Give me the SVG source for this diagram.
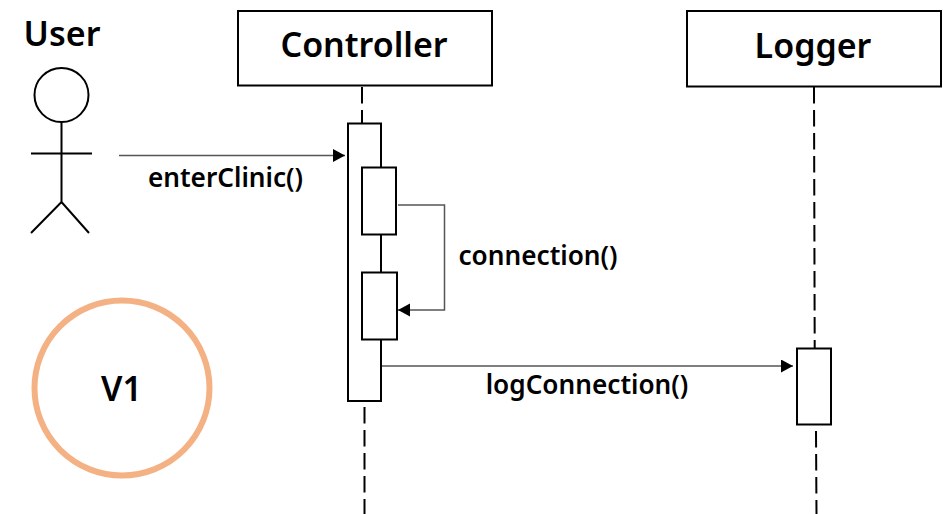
<svg xmlns="http://www.w3.org/2000/svg" width="943" height="514" viewBox="0 0 943 514">
<style>
.s{fill:#fff;stroke:#000;stroke-width:2}
.n{fill:none;stroke:#000;stroke-width:2}
.d{fill:none;stroke:#000;stroke-width:2;stroke-dasharray:16.500 6.500}
.c{fill:none;stroke:#555;stroke-width:1.500}
text{font-family:"Noto Sans","Open Sans",sans-serif;fill:#000;text-anchor:middle}
.t{font-size:34px;font-weight:600}
.l{font-size:26.200px;font-weight:600}
</style>
<defs><marker id="a" markerUnits="userSpaceOnUse" markerWidth="14" markerHeight="14" refX="12" refY="6.500" orient="auto"><path d="M0 0L12 6.500L0 13Z" fill="#000"/></marker></defs>
<rect width="943" height="514" fill="#fff"/>
<g id="lifelines">
<path class="d" d="M362 87V123"/>
<path class="d" d="M364.500 407V514"/>
<path class="d" d="M814 87L814.700 348"/>
<path class="d" d="M816 431L816.500 514"/>
</g>
<g id="user">
<circle class="n" cx="61.500" cy="95" r="27"/>
<path class="n" d="M61.500 122V202M31 153.500H92M31 233L61.500 202L89 233"/>
<text class="t" x="62" y="46">User</text>
</g>
<g id="controller">
<rect class="s" x="238" y="11" width="254" height="74.500"/>
<text class="t" x="364" y="57">Controller</text>
</g>
<g id="logger">
<rect class="s" x="687" y="11" width="254" height="75.500"/>
<text class="t" x="813" y="58">Logger</text>
</g>
<g id="activation-main"><rect class="s" x="348" y="123.500" width="33" height="277.500"/></g>
<g id="activation-1"><rect class="s" x="362" y="167.500" width="34" height="67"/></g>
<g id="activation-2"><rect class="s" x="362" y="272.500" width="35" height="67"/></g>
<g id="activation-logger"><rect class="s" x="797" y="348.500" width="34" height="76"/></g>
<g id="connectors">
<path class="c" marker-end="url(#a)" d="M119 155.500H345"/>
<path class="c" d="M398 205H444.500V310H410"/>
<path class="c" marker-end="url(#a)" d="M410 310H398"/>
<path class="c" marker-end="url(#a)" d="M382 366H793"/>
</g>
<g id="labels">
<text class="l" x="225.500" y="187">enterClinic()</text>
<text class="l" x="538" y="265">connection()</text>
<text class="l" x="587" y="394">logConnection()</text>
</g>
<g id="v1">
<circle cx="122" cy="388" r="87.500" fill="none" stroke="#f4b183" stroke-width="6"/>
<text class="t" x="121.500" y="401">V1</text>
</g>
</svg>
